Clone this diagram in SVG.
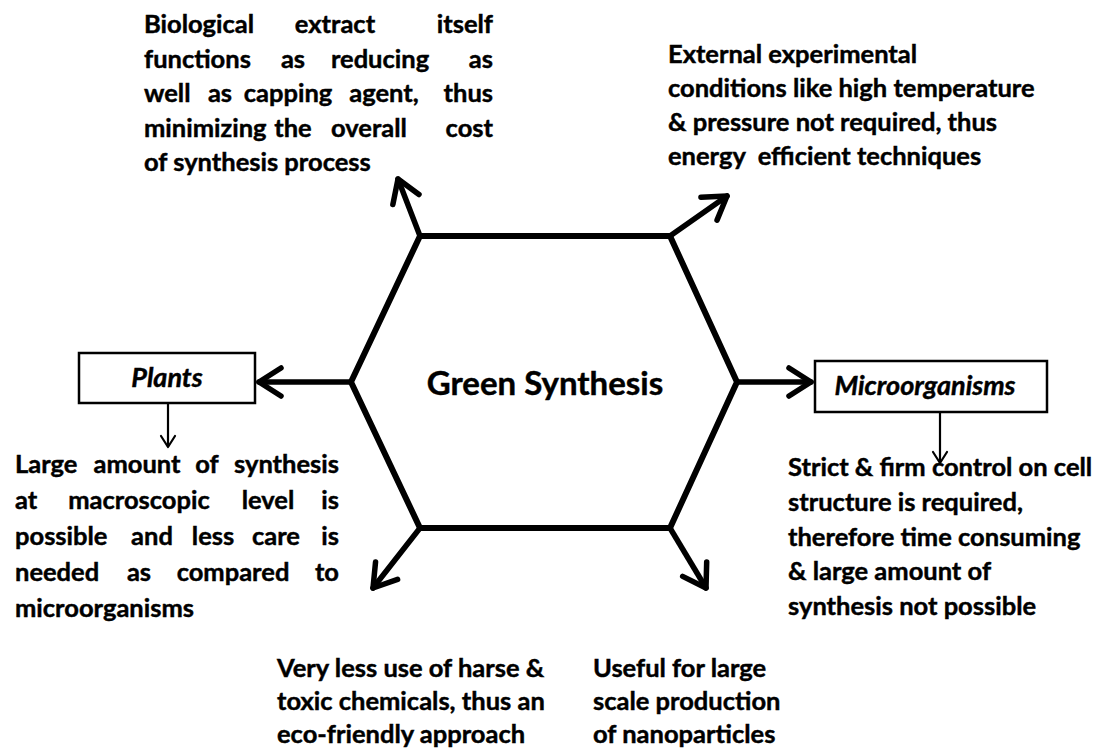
<svg xmlns="http://www.w3.org/2000/svg" width="1114" height="753" viewBox="0 0 1114 753">
<style>
.t{font-family:Lato,"Open Sans","Liberation Sans",sans-serif;font-weight:bold;font-size:25.5px;fill:#000;stroke:#000;stroke-width:0.45}
.e{text-anchor:end}
.m{text-anchor:middle}
.it{font-style:italic;font-size:27px}
.big{font-size:33px}
.hex{fill:none;stroke:#000;stroke-width:6;stroke-linejoin:miter}
.thick{fill:none;stroke:#000;stroke-width:5.5;stroke-linecap:round}
.thin{fill:none;stroke:#000;stroke-width:2.2}
.box{fill:#fff;stroke:#000;stroke-width:2.5}
</style>
<defs>
<marker id="big" markerUnits="userSpaceOnUse" markerWidth="60" markerHeight="60" viewBox="-30 -30 60 60" refX="0" refY="0" orient="auto" overflow="visible">
<path d="M-22,-14 L0,0 L-22,14" fill="none" stroke="#000" stroke-width="5.5" stroke-linecap="round" stroke-linejoin="round"/>
</marker>
<marker id="small" markerUnits="userSpaceOnUse" markerWidth="30" markerHeight="30" viewBox="-15 -15 30 30" refX="0" refY="0" orient="auto" overflow="visible">
<path d="M-11,-7 L0,0 L-11,7" fill="none" stroke="#000" stroke-width="2.2" stroke-linecap="round" stroke-linejoin="round"/>
</marker>
</defs>
<rect width="1114" height="753" fill="#fff"/>

<g id="connectors">
<line class="thick" x1="351" y1="382" x2="259" y2="382" marker-end="url(#big)"/>
<line class="thick" x1="737" y1="382" x2="811" y2="382" marker-end="url(#big)"/>
<line class="thick" x1="420" y1="236" x2="398" y2="179" marker-end="url(#big)"/>
<line class="thick" x1="670" y1="236" x2="727" y2="196" marker-end="url(#big)"/>
<line class="thick" x1="420" y1="528" x2="373" y2="588" marker-end="url(#big)"/>
<line class="thick" x1="670" y1="528" x2="706" y2="588" marker-end="url(#big)"/>
<line class="thin" x1="168" y1="403" x2="168" y2="447" marker-end="url(#small)"/>
<line class="thin" x1="940" y1="412" x2="940" y2="463" marker-end="url(#small)"/>
</g>

<g id="hexagon">
<polygon class="hex" points="420,236 670,236 737,382 670,528 420,528 351,382"/>
<text class="t big m" x="545" y="395">Green Synthesis</text>
</g>

<g id="plants">
<rect class="box" x="79" y="353" width="176" height="50"/>
<text class="t it m" x="167" y="387">Plants</text>
</g>

<g id="microorganisms">
<rect class="box" x="815" y="361" width="232" height="51"/>
<text class="t it m" x="925" y="395">Microorganisms</text>
</g>

<g id="note-top-left">
<text class="t" y="33"><tspan x="144">Biological</tspan><tspan x="335" class="m">extract</tspan><tspan x="493" class="e">itself</tspan></text>
<text class="t" y="67.5"><tspan x="144">functions</tspan><tspan x="293" class="m">as</tspan><tspan x="380" class="m">reducing</tspan><tspan x="493" class="e">as</tspan></text>
<text class="t" y="102"><tspan x="144">well</tspan><tspan x="220" class="m">as</tspan><tspan x="288" class="m">capping</tspan><tspan x="384" class="m">agent,</tspan><tspan x="493" class="e">thus</tspan></text>
<text class="t" y="136.5"><tspan x="144">minimizing</tspan><tspan x="293" class="m">the</tspan><tspan x="369" class="m">overall</tspan><tspan x="493" class="e">cost</tspan></text>
<text class="t" x="144" y="171">of synthesis process</text>
</g>

<g id="note-top-right">
<text class="t" x="668" y="63">External experimental</text>
<text class="t" x="668" y="97">conditions like high temperature</text>
<text class="t" x="668" y="131">&amp; pressure not required, thus</text>
<text class="t" x="668" y="165" xml:space="preserve">energy  efficient techniques</text>
</g>

<g id="note-left">
<text class="t" y="473"><tspan x="15">Large</tspan><tspan x="137" class="m">amount</tspan><tspan x="207" class="m">of</tspan><tspan x="339" class="e">synthesis</tspan></text>
<text class="t" y="509"><tspan x="15">at</tspan><tspan x="139" class="m">macroscopic</tspan><tspan x="268" class="m">level</tspan><tspan x="339" class="e">is</tspan></text>
<text class="t" y="545"><tspan x="15">possible</tspan><tspan x="152" class="m">and</tspan><tspan x="213" class="m">less</tspan><tspan x="276" class="m">care</tspan><tspan x="339" class="e">is</tspan></text>
<text class="t" y="581"><tspan x="15">needed</tspan><tspan x="139" class="m">as</tspan><tspan x="233" class="m">compared</tspan><tspan x="339" class="e">to</tspan></text>
<text class="t" x="15" y="617">microorganisms</text>
</g>

<g id="note-right">
<text class="t" x="788" y="476">Strict &amp; firm control on cell</text>
<text class="t" x="788" y="511">structure is required,</text>
<text class="t" x="788" y="546">therefore time consuming</text>
<text class="t" x="788" y="580">&amp; large amount of</text>
<text class="t" x="788" y="615">synthesis not possible</text>
</g>

<g id="note-bottom-left">
<text class="t" x="277" y="677">Very less use of harse &amp;</text>
<text class="t" x="277" y="710">toxic chemicals, thus an</text>
<text class="t" x="277" y="743">eco-friendly approach</text>
</g>

<g id="note-bottom-right">
<text class="t" x="593" y="677">Useful for large</text>
<text class="t" x="593" y="710">scale production</text>
<text class="t" x="593" y="743">of nanoparticles</text>
</g>
</svg>
